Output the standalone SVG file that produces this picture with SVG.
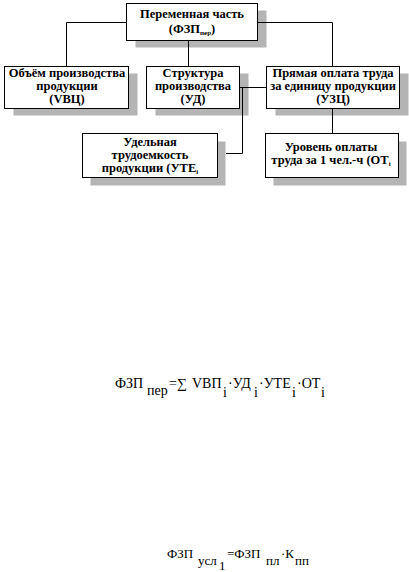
<svg xmlns="http://www.w3.org/2000/svg" width="409" height="572" viewBox="0 0 409 572">
<style>
.sh{fill:#b4b4b4}
.bx{fill:#fff;stroke:#000;stroke-width:1}
.t{font-family:"Liberation Serif","Times New Roman",serif;font-size:12.5px;font-weight:bold;text-anchor:middle;fill:#000}
.f{font-family:"Liberation Serif","Times New Roman",serif;font-size:14px;fill:#000}
.f2{font-family:"Liberation Serif","Times New Roman",serif;font-size:13px;fill:#000}
.cn{fill:none;stroke:#000;stroke-width:1}
</style>
<rect width="409" height="572" fill="#fff"/>
<g id="node-top">
<rect class="sh" x="135.5" y="10.5" width="131" height="37"/>
<rect class="bx" x="126.5" y="3.5" width="131" height="37"/>
<text class="t" x="192" y="18">Переменная часть</text>
<text class="t" x="192" y="33">(ФЗП<tspan font-size="7" dy="2">пер</tspan><tspan dy="-2">)</tspan></text>
</g>
<g id="node-vvp">
<rect class="sh" x="13.5" y="73.5" width="124" height="42"/>
<rect class="bx" x="4.5" y="66.5" width="124" height="42"/>
<text class="t" x="67" y="77">Объём производства</text>
<text class="t" x="67" y="90">продукции</text>
<text class="t" x="67" y="103">(VВЦ)</text>
</g>
<g id="node-ud">
<rect class="sh" x="155.5" y="73.5" width="93" height="42"/>
<rect class="bx" x="146.5" y="66.5" width="93" height="42"/>
<text class="t" x="193" y="77">Структура</text>
<text class="t" x="193" y="90">производства</text>
<text class="t" x="193" y="103">(УД)</text>
</g>
<g id="node-uzp">
<rect class="sh" x="275.5" y="73.5" width="133" height="42"/>
<rect class="bx" x="266.5" y="66.5" width="133" height="42"/>
<text class="t" x="333" y="77">Прямая оплата труда</text>
<text class="t" x="333" y="90">за единицу продукции</text>
<text class="t" x="333" y="103">(УЗЦ)</text>
</g>
<g id="node-ute">
<rect class="sh" x="90.5" y="141.5" width="135" height="44"/>
<rect class="bx" x="82.5" y="133.5" width="135" height="44"/>
<text class="t" x="150" y="146">Удельная</text>
<text class="t" x="150" y="159">трудоемкость</text>
<text class="t" x="150" y="172">продукции (УТЕ<tspan font-size="7" dy="2">i</tspan></text>
</g>
<g id="node-ot">
<rect class="sh" x="273.5" y="141.5" width="133" height="44"/>
<rect class="bx" x="265.5" y="133.5" width="133" height="44"/>
<text class="t" x="331" y="151">Уровень оплаты</text>
<text class="t" x="331" y="164">труда за 1 чел.-ч (ОТ<tspan font-size="7" dy="2">i</tspan></text>
</g>
<g id="connectors">
<path class="cn" d="M126,22.5 H66.5 V66"/>
<path class="cn" d="M257,22.5 H332.5 V66"/>
<path class="cn" d="M188.5,40 V66"/>
<path class="cn" d="M239,87.5 H266"/>
<path class="cn" d="M242.5,87.5 V153.5 H226"/>
<path class="cn" d="M332.5,108 V133"/>
</g>
<g id="formulas">
<text class="f" y="388"><tspan x="115">ФЗП</tspan><tspan x="147" y="395">пер</tspan><tspan x="169" y="388">=∑</tspan><tspan x="192">VВП</tspan><tspan x="223" y="397">i</tspan><tspan x="228" y="388">·УД</tspan><tspan x="254" y="397">i</tspan><tspan x="259" y="388">·УТЕ</tspan><tspan x="292" y="397">i</tspan><tspan x="297" y="388">·ОТ</tspan><tspan x="321" y="397">i</tspan></text>
<text class="f2" y="558"><tspan x="167">ФЗП</tspan><tspan x="198" y="565">усл</tspan><tspan x="219" y="570">1</tspan><tspan x="227" y="558">=ФЗП</tspan><tspan x="266" y="565">пл</tspan><tspan x="281" y="558">·К</tspan><tspan x="295" y="565">пп</tspan></text>
</g>
</svg>
